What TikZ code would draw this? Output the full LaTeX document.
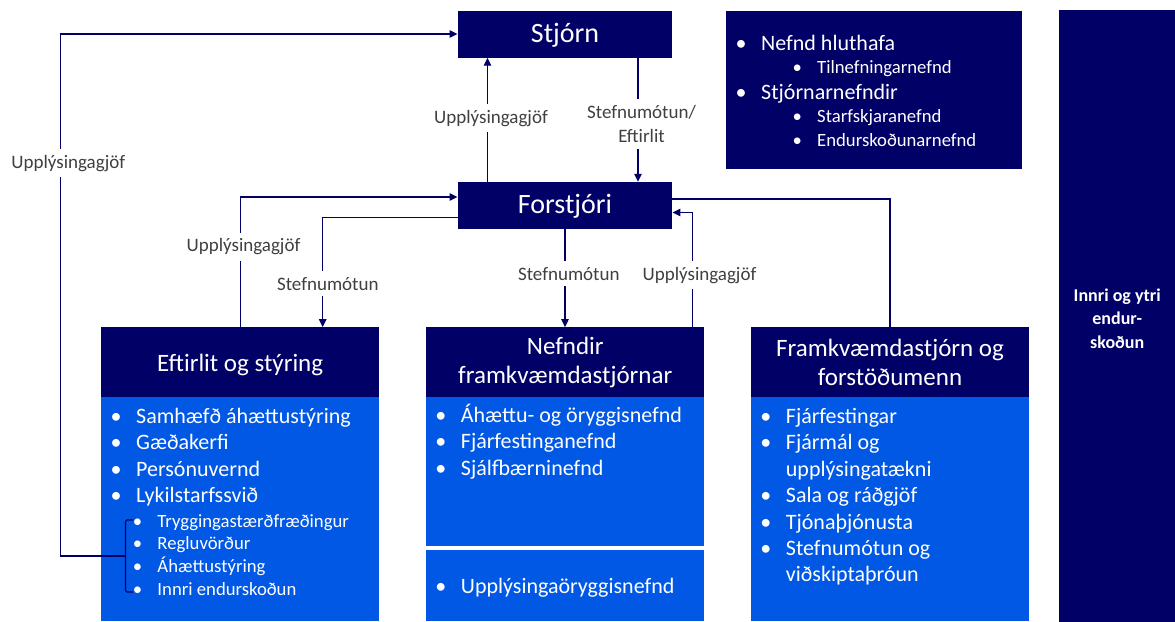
\documentclass[tikz,border=0pt]{standalone}
\usepackage{fontspec}
\setmainfont{Carlito}
\usetikzlibrary{arrows.meta}

\definecolor{darkblue}{RGB}{0,0,102}
\definecolor{midblue}{RGB}{0,88,228}
\definecolor{labelgray}{RGB}{64,64,64}

\newcommand{\itembul}{\makebox[0pt]{\textbullet}\hspace{20pt}}

\begin{document}
\begin{tikzpicture}[x=1pt, y=-1pt,
    hdr/.style={fill=darkblue, text=white, inner sep=0pt},
    body/.style={fill=midblue, inner sep=0pt, minimum width=278.3pt},
    conn/.style={draw=darkblue, line width=1.3pt},
    arr/.style={conn, -{Triangle[length=8pt,width=7.5pt]}},
    lbl/.style={fill=white, text=labelgray, inner xsep=2pt, inner ysep=6pt,
      font=\fontsize{19}{24}\selectfont},
    itm/.style={anchor=base west, inner sep=0pt, text=white,
      font=\fontsize{22}{26}\selectfont},
    subitm/.style={itm, font=\fontsize{18.7}{22}\selectfont}]

  \useasboundingbox (0,0) rectangle (1175,621);

  % Stjorn and forstjori
  \node[hdr, minimum width=214.5pt, minimum height=47pt, font=\fontsize{28}{33}\selectfont,
    text height=16pt, text depth=0pt] (stjorn) at (565,34) {Stjórn};
  \node[hdr, minimum width=214.5pt, minimum height=47pt, font=\fontsize{28}{33}\selectfont,
    text height=15pt, text depth=0pt] (forstjori) at (565,205.5) {Forstjóri};

  % Nefndir stjornar
  \node[hdr, minimum width=295.7pt, minimum height=158.3pt] (hlut) at (873.9,90.2) {};
  \node[itm] (h1) at (741,50) {\itembul Nefnd hluthafa};
  \node[subitm] (h2) at (797,73.3) {\itembul Tilnefningarnefnd};
  \node[itm] (h3) at (741,99.3) {\itembul Stjórnarnefndir};
  \node[subitm] (h4) at (797,122.7) {\itembul Starfskjaranefnd};
  \node[subitm] (h5) at (797,146) {\itembul Endurskoðunarnefnd};

  % Endurskodun (runs past the lower edge)
  \node[hdr, minimum width=115.7pt, minimum height=617pt, align=center,
    font=\bfseries\fontsize{18}{23.3}\selectfont] (innri) at (1117.2,318.5)
    {Innri og ytri\\endur-\\skoðun};

  % Headers
  \node[hdr, minimum width=278.3pt, minimum height=70pt, font=\fontsize{25}{29}\selectfont,
    text height=17.4pt, text depth=0pt] (eft) at (240.2,362.3) {Eftirlit og stýring};
  \node[hdr, minimum width=278.3pt, minimum height=70pt, font=\fontsize{25}{29}\selectfont,
    align=center] (nefh) at (565.2,362.3) {Nefndir\\framkvæmdastjórnar};
  \node[hdr, minimum width=278.3pt, minimum height=70pt, font=\fontsize{25}{29}\selectfont,
    align=center] (frh) at (890,362.3) {Framkvæmdastjórn og\\forstöðumenn};

  % Bodies
  \node[body, minimum height=223.7pt] (eftb) at (240.2,509.2) {};
  \node[body, minimum height=148.4pt] (nefb) at (565.2,471.5) {};
  \node[body, minimum height=71pt] (nefc) at (565.2,585.5) {};
  \node[body, minimum height=223.7pt] (frb) at (890,509.2) {};

  \node[itm] (e1) at (116,423) {\itembul Samhæfð áhættustýring};
  \node[itm] (e2) at (116,449.5) {\itembul Gæðakerfi};
  \node[itm] (e3) at (116,476) {\itembul Persónuvernd};
  \node[itm] (e4) at (116,502.5) {\itembul Lykilstarfssvið};
  \node[subitm] (es1) at (137.3,527) {\itembul Tryggingastærðfræðingur};
  \node[subitm] (es2) at (137.3,549.7) {\itembul Regluvörður};
  \node[subitm] (es3) at (137.3,572.5) {\itembul Áhættustýring};
  \node[subitm] (es4) at (137.3,595) {\itembul Innri endurskoðun};

  \node[itm] (n1) at (440.7,422) {\itembul Áhættu- og öryggisnefnd};
  \node[itm] (n2) at (440.7,448.5) {\itembul Fjárfestinganefnd};
  \node[itm] (n3) at (440.7,475) {\itembul Sjálfbærninefnd};
  \node[itm] (n4) at (440.7,593.3) {\itembul Upplýsingaöryggisnefnd};

  \node[itm] (f1) at (765.7,423.3) {\itembul Fjárfestingar};
  \node[itm] (f2) at (765.7,449.3) {\itembul Fjármál og};
  \node[itm] (f2b) at (765.7,476) {\hspace{20pt}upplýsingatækni};
  \node[itm] (f3) at (765.7,502.7) {\itembul Sala og ráðgjöf};
  \node[itm] (f4) at (765.7,529.3) {\itembul Tjónaþjónusta};
  \node[itm] (f5) at (765.7,555) {\itembul Stefnumótun og};
  \node[itm] (f5b) at (765.7,581.7) {\hspace{20pt}viðskiptaþróun};

  % Bracket
  \coordinate (brk) at (125.5,556);
  \draw[conn, line width=1.2pt, rounded corners=1.5pt]
    (133,520) -- (125.5,520) -- (125.5,592) -- (133,592);

  % Connectors
  \draw[arr] (brk) -- ++(-65,0) |- (stjorn.west);
  \draw[arr] ([xshift=-77.5pt]forstjori.north) -- ([xshift=-77.5pt]stjorn.south);
  \draw[arr] ([xshift=73pt]stjorn.south) -- ([xshift=73pt]forstjori.north);
  \draw[arr] (eft.north) |- ([yshift=8.5pt]forstjori.west);
  \draw[arr] ([yshift=-12pt]forstjori.west) -| ([xshift=82.5pt]eft.north);
  \draw[arr] (forstjori.south) -- (forstjori.south |- nefh.north);
  \draw[arr] ([xshift=127pt]nefh.north) |- ([yshift=-7pt]forstjori.east);
  \draw[conn] (frh.north) |- ([yshift=6.5pt]forstjori.east);

  % Labels
  \node[lbl, anchor=base] (l0) at (68.3,168) {Upplýsingagjöf};
  \node[lbl, anchor=base] (l1) at (491,123) {Upplýsingagjöf};
  \node[lbl, align=center] (l2) at (641.5,124) {Stefnumótun/\\Eftirlit};
  \node[lbl, anchor=base] (l3) at (243.5,251.7) {Upplýsingagjöf};
  \node[lbl, anchor=base] (l4) at (327.8,290) {Stefnumótun};
  \node[lbl, anchor=base] (l5) at (568.8,280) {Stefnumótun};
  \node[lbl, anchor=base] (l6) at (699.5,280) {Upplýsingagjöf};
\end{tikzpicture}
\end{document}
